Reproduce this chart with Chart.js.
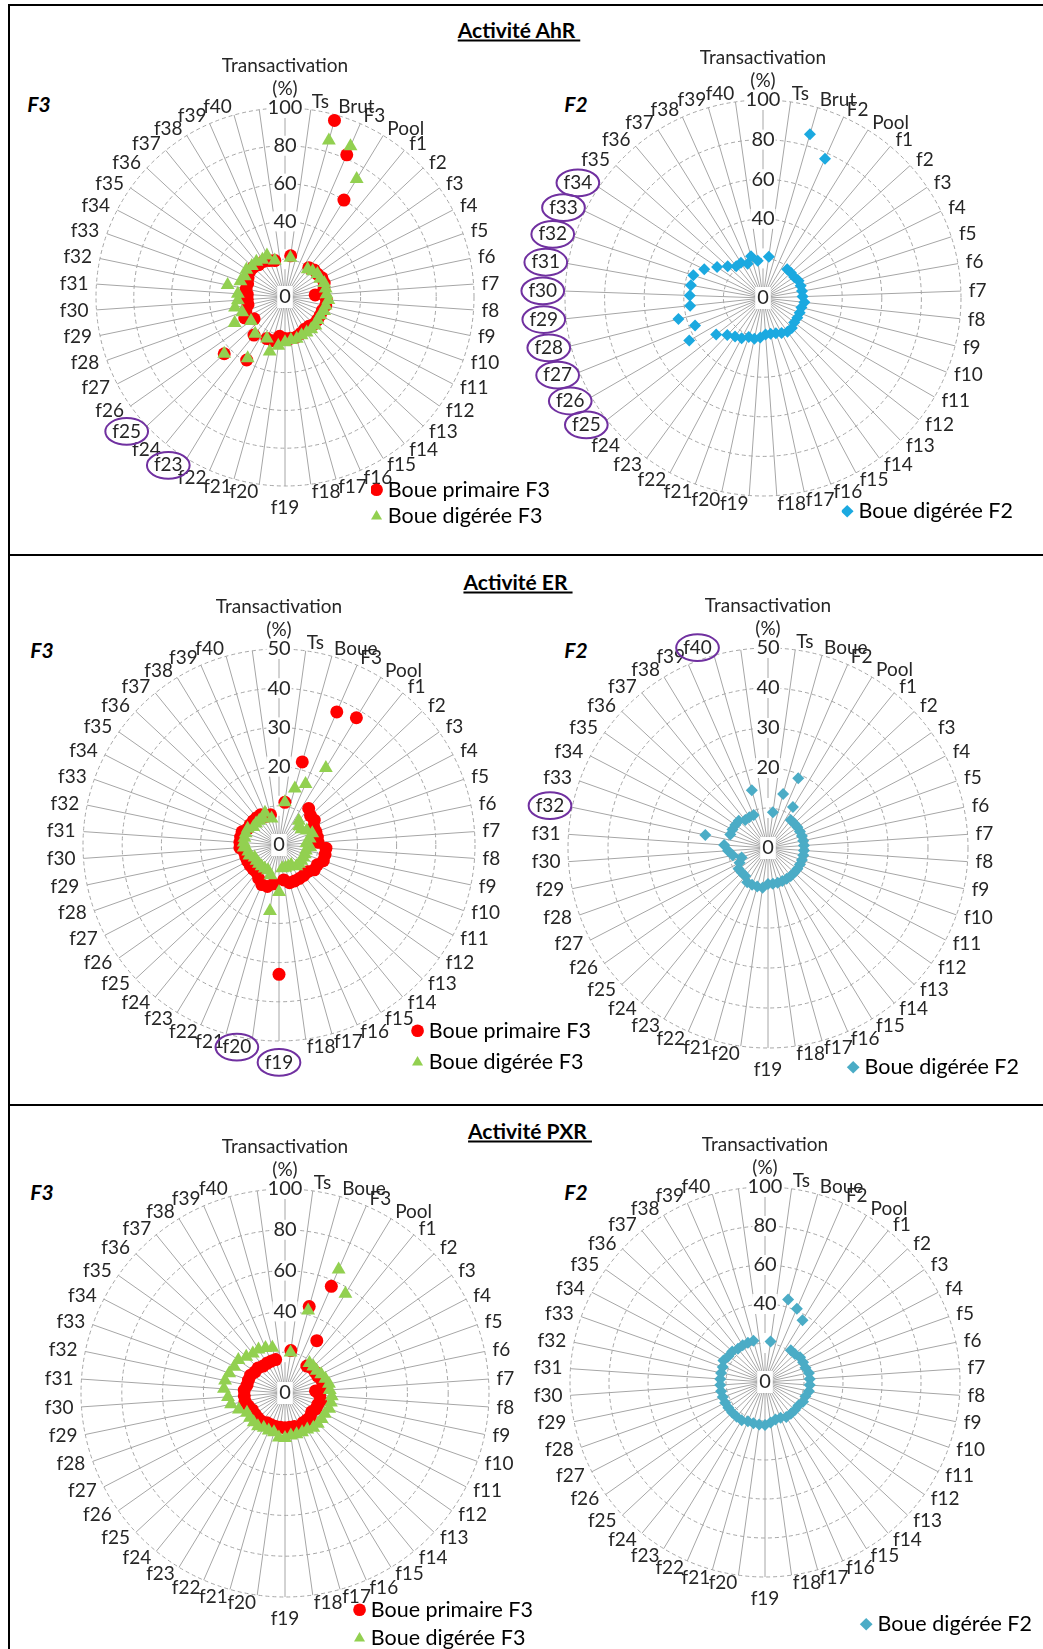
<!DOCTYPE html>
<html><head><meta charset="utf-8">
<script src="https://cdn.jsdelivr.net/npm/chart.js@4"></script>
<style>
html,body{margin:0;padding:0;background:#fff;width:1043px;height:1649px;overflow:hidden;position:relative;font-family:Lato,'Open Sans',sans-serif;color:#000;}
.panel{position:absolute;border:2px solid #000;box-sizing:border-box;}
.title{position:absolute;font-weight:bold;font-size:21px;text-decoration:underline;transform:translate(-50%,-50%);white-space:pre;}
.tag{position:absolute;font-weight:bold;font-style:italic;font-size:21px;transform:translate(-50%,-50%);}
canvas{position:absolute;}
</style></head>
<body>
<div class="panel" style="left:8px;top:4px;width:1100px;height:552px"></div>
<div class="panel" style="left:8px;top:554px;width:1100px;height:552px"></div>
<div class="panel" style="left:8px;top:1104px;width:1100px;height:600px"></div>
<div class="title" style="left:519px;top:29px">Activité AhR </div>
<div class="title" style="left:518px;top:581px">Activité ER </div>
<div class="title" style="left:530px;top:1130px">Activité PXR </div>
<div class="tag" style="left:39px;top:103px">F3</div>
<div class="tag" style="left:576px;top:103px">F2</div>
<div class="tag" style="left:42px;top:649px">F3</div>
<div class="tag" style="left:576px;top:649px">F2</div>
<div class="tag" style="left:42px;top:1191px">F3</div>
<div class="tag" style="left:576px;top:1191px">F2</div>
<canvas id="c1"></canvas><canvas id="c2"></canvas><canvas id="c3"></canvas>
<canvas id="c4"></canvas><canvas id="c5"></canvas><canvas id="c6"></canvas>
<script>
// ---------- categories ----------
const axisTitle = ['Transactivation', '(%)'];
const fractions = ['f1','f2','f3','f4','f5','f6','f7','f8','f9','f10',
  'f11','f12','f13','f14','f15','f16','f17','f18','f19','f20',
  'f21','f22','f23','f24','f25','f26','f27','f28','f29','f30',
  'f31','f32','f33','f34','f35','f36','f37','f38','f39','f40'];
const catsAhRF3 = [axisTitle, 'Ts', 'Brut', 'F3', 'Pool', ...fractions, ''];
const catsAhRF2 = [axisTitle, 'Ts', 'Brut', 'F2', 'Pool', ...fractions];
const catsERF3  = [axisTitle, 'Ts', 'Boue', 'F3', 'Pool', ...fractions, ''];
const catsERF2  = [axisTitle, 'Ts', 'Boue', 'F2', 'Pool', ...fractions, ''];
const catsPXRF3 = [axisTitle, 'Ts', 'Boue', 'F3', 'Pool', ...fractions, ''];
const catsPXRF2 = [axisTitle, 'Ts', 'Boue', 'F2', 'Pool', ...fractions, ''];

// ---------- series (transactivation %) ----------
const ahrF3Primaire = [null,
  22, 97, 82, 60,
  20, 21, 21, 22, 22, 21, 16, 22, 22, 21,
  21, 21, 21, 20, 20, 21, 22, 22, 22, 21,
  24, 24, 39, 26, 44, 20, 24, 22, 20, 20,
  20, 21, 21, 22, 23, 23, 22, 22, 21, 20,
  null];
const ahrF3Digeree = [null,
  21, 86, 87, 73,
  19, 20, 21, 21, 22, 22, 22, 23, 22, 22,
  21, 21, 22, 22, 22, 22, 23, 23, 24, 26,
  30, 24, 38, 25, 44, 22, 30, 24, 27, 25,
  25, 31, 25, 24, 25, 24, 24, 23, 24, 20,
  null];
const ahrF2Digeree = [null,
  21, 86, 77, 85,
  19, 19, 19, 20, 20, 20, 20, 21, 20, 20,
  20, 20, 21, 21, 20, 19, 18.5, 18.5, 20, 21,
  21, 23, 24, 26, 30, 43, 37, 44, 37, 37,
  37, 37, 33, 28, 24, 21, 21, 19, 22, 19];
const erF3Primaire = [null,
  11, 22, 37, 38,
  12, 11, 11, 10, 10, 10, 10, 12, 12, 12,
  11, 11, 10, 10, 10, 10, 10, 9, 33, 10,
  11, 11, 10, 9, 9, 9, 9, 9, 9, 10,
  10, 10, 10, 9, 9, 9, 9, 9, 8, 8,
  null];
const erF3Digeree = [null,
  11, 15, 17, 23,
  8, 7, 7, 8, 9, 8, 7, 8, 7, 7,
  7, 7, 7, 7, 6, 6, 6, 6, 12, 17,
  8, 7, 7, 7, 7, 7, 7, 8, 8, 9,
  9, 9, 9, 9, 8, 8, 8, 8, 9, 7,
  null];
const erF2Digeree = [null,
  9, 14, 19, 12,
  9, 9, 9, 9, 9, 9, 9, 9, 9, 9,
  9, 9, 9, 9, 9, 9, 9, 9, 9, 10,
  10, 10, 10, 9, 9, 9, 8, 7, 9, 10,
  11, 16, 10, 10, 10, 10, 9, 9, 9, 15,
  null];
const pxrF3Primaire = [null,
  21, 44, 57, 30,
  17, 18, 18, 18, 19, 19, 15, 17, 18, 17,
  17, 16, 17, 17, 17, 18, 17, 17, 17, 17,
  17, 17, 17, 18, 18, 18, 18, 19, 20, 20,
  20, 19, 19, 19, 18, 18, 17, 17, 17, 17,
  null];
const pxrF3Digeree = [null,
  20, 42, 66, 57,
  19, 19, 19, 20, 21, 22, 22, 23, 23, 23,
  22, 22, 22, 22, 21, 21, 21, 21, 22, 22,
  20, 20, 20, 21, 21, 21, 21, 24, 27, 28,
  30, 30, 29, 28, 28, 26, 25, 25, 24, 23,
  null];
const pxrF2Digeree = [null,
  21, 44, 41, 37,
  21, 21, 22, 22, 22, 23, 23, 23, 23, 22,
  22, 21, 21, 21, 21, 20, 20, 21, 22, 22,
  22, 22, 23, 23, 23, 23, 23, 23, 23, 23,
  23, 23, 23, 24, 23, 23, 22, 22, 22, 22,
  null];

// circled (highlighted) fractions
const circledAhRF3 = ['f23', 'f25'];
const circledAhRF2 = ['f25','f26','f27','f28','f29','f30','f31','f32','f33','f34'];
const circledERF3  = ['f19', 'f20'];
const circledERF2  = ['f40', 'f32'];

// ---------- styling ----------
const FONT = 'Lato, "Open Sans", sans-serif';
const LABEL_SIZE = 19;
const RED = '#FF0000', GREEN = '#92D050', BLUE1 = '#1BA9E0', BLUE2 = '#4BACC6';
const PURPLE = '#7030A0';

function serie(label, data, color, style, radius, order) {
  return { label, data, order, showLine: false, clip: false,
    pointStyle: style, pointRadius: radius, pointHoverRadius: radius,
    backgroundColor: color, borderColor: color,
    pointBackgroundColor: color, pointBorderColor: color,
    borderWidth: 0, pointBorderWidth: 0, fill: false };
}

const zeroAndCircles = {
  id: 'zeroAndCircles',
  beforeDatasetsDraw(chart) {
    const s = chart.scales.r, ctx = chart.ctx;
    ctx.save();
    ctx.font = '20px ' + FONT;
    const w = ctx.measureText('0').width;
    ctx.fillStyle = '#fff';
    ctx.fillRect(s.xCenter - w/2 - 2, s.yCenter - 11, w + 4, 22);
    ctx.fillStyle = '#262626';
    ctx.textAlign = 'center'; ctx.textBaseline = 'middle';
    ctx.fillText('0', s.xCenter, s.yCenter);
    ctx.restore();
  },
  afterDraw(chart, args, opts) {
    const s = chart.scales.r, ctx = chart.ctx;
    const items = s._pointLabelItems || [];
    const labels = chart.data.labels;
    ctx.save();
    ctx.strokeStyle = PURPLE; ctx.lineWidth = 2;
    (opts.names || []).forEach(name => {
      const i = labels.indexOf(name);
      const it = items[i];
      if (!it) return;
      const cx = (it.left + it.right) / 2, cy = (it.top + it.bottom) / 2;
      const rx = (it.right - it.left) / 2 + 7, ry = (it.bottom - it.top) / 2 + 2;
      ctx.beginPath();
      ctx.ellipse(cx, cy, rx, ry, 0, 0, Math.PI * 2);
      ctx.stroke();
    });
    ctx.restore();
  }
};

// Category labels: anchored just outside the ring, left/right aligned by side, vertically centred.
function placeLabels(s, R, gap) {
  const ctx = s.ctx;
  const lh = LABEL_SIZE * 1.2;
  ctx.save();
  ctx.font = LABEL_SIZE + 'px ' + FONT;
  s._pointLabelItems.forEach((item, i) => {
    const lbl = s._pointLabels[i];
    const lines = Array.isArray(lbl) ? lbl : [lbl];
    const w = Math.max(...lines.map(t => ctx.measureText(t).width));
    const H = lines.length * lh;
    const p = s.getPointPosition(i, R + gap);
    const deg = Math.round(s.getIndexAngle(i) * 180 / Math.PI) % 360;
    let align, left, top;
    if (deg === 0) { align = 'center'; left = p.x - w / 2; top = p.y - H; }
    else if (deg === 180) { align = 'center'; left = p.x - w / 2; top = p.y + 2; }
    else if (deg < 180) { align = 'left'; left = p.x; top = p.y - H / 2; }
    else { align = 'right'; left = p.x - w; top = p.y - H / 2; }
    item.textAlign = align; item.x = p.x; item.y = top;
    item.left = left; item.right = left + w; item.top = top; item.bottom = top + H;
    item.visible = true;
  });
  ctx.restore();
}

function makeRadar(id, box, labels, datasets, max, step, circled, legendPad) {
  const cv = document.getElementById(id);
  cv.width = box.w; cv.height = box.h;
  cv.style.left = box.x + 'px'; cv.style.top = box.y + 'px';
  const cx = box.cx - box.x, cy = box.cy - box.y, R = box.R;
  new Chart(cv, {
    type: 'radar',
    data: { labels, datasets },
    plugins: [zeroAndCircles],
    options: {
      responsive: false, animation: false, devicePixelRatio: 1,
      layout: { padding: 0 },
      plugins: {
        tooltip: { enabled: false },
        zeroAndCircles: { names: circled },
        legend: {
          position: 'right', align: 'end',
          labels: {
            usePointStyle: true, boxWidth: 1, boxHeight: 9, padding: legendPad,
            color: '#000', font: { family: FONT, size: 21.5 },
            sort: (a, b) => a.datasetIndex - b.datasetIndex
          }
        }
      },
      scales: {
        r: {
          min: 0, max: max,
          afterFit: (s) => {
            const keep = [s.left, s.right, s.top, s.bottom];
            s.left = -5000; s.right = 5000; s.top = -5000; s.bottom = 5000;
            s.xCenter = cx; s.yCenter = cy; s.drawingArea = R;
            s.fit();
            [s.left, s.right, s.top, s.bottom] = keep;
            placeLabels(s, R, 8);
          },
          ticks: { stepSize: step, color: '#262626', font: { family: FONT, size: 20 },
                   callback: (v) => (v === step ? '' : String(v)),
                   showLabelBackdrop: true, backdropColor: '#fff', backdropPadding: { x: 1, y: 0 } },
          pointLabels: { color: '#262626', font: { family: FONT, size: LABEL_SIZE }, padding: 5 },
          angleLines: { color: '#a6a6a6', lineWidth: 1 },
          grid: { color: '#a6a6a6', lineWidth: 1, circular: true },
          border: { dash: [4, 3] }
        }
      }
    }
  });
}

makeRadar('c1', {x:10, y:30, w:550, h:502, cx:285, cy:297, R:189}, catsAhRF3, [
  serie('Boue primaire F3', ahrF3Primaire, RED, 'circle', 6.5, 1),
  serie('Boue digérée F3', ahrF3Digeree, GREEN, 'triangle', 8, 0)
], 100, 20, circledAhRF3, 5);

makeRadar('c2', {x:515, y:30, w:508, h:497, cx:763, cy:298, R:198}, catsAhRF2, [
  serie('Boue digérée F2', ahrF2Digeree, BLUE1, 'rectRot', 6, 0)
], 100, 20, circledAhRF2, 5);

makeRadar('c3', {x:10, y:575, w:591, h:508, cx:279, cy:845, R:196}, catsERF3, [
  serie('Boue primaire F3', erF3Primaire, RED, 'circle', 6.5, 1),
  serie('Boue digérée F3', erF3Digeree, GREEN, 'triangle', 8, 0)
], 50, 10, circledERF3, 10);

makeRadar('c4', {x:515, y:575, w:514, h:513, cx:768, cy:848, R:200}, catsERF2, [
  serie('Boue digérée F2', erF2Digeree, BLUE2, 'rectRot', 6, 0)
], 50, 10, circledERF2, 10);

makeRadar('c5', {x:10, y:1120, w:533, h:536, cx:285, cy:1393, R:204}, catsPXRF3, [
  serie('Boue primaire F3', pxrF3Primaire, RED, 'circle', 6.5, 1),
  serie('Boue digérée F3', pxrF3Digeree, GREEN, 'triangle', 8, 0)
], 100, 20, [], 7);

makeRadar('c6', {x:515, y:1120, w:527, h:522, cx:765, cy:1382, R:195}, catsPXRF2, [
  serie('Boue digérée F2', pxrF2Digeree, BLUE2, 'rectRot', 6, 0)
], 100, 20, [], 7);
</script>
</body></html>
